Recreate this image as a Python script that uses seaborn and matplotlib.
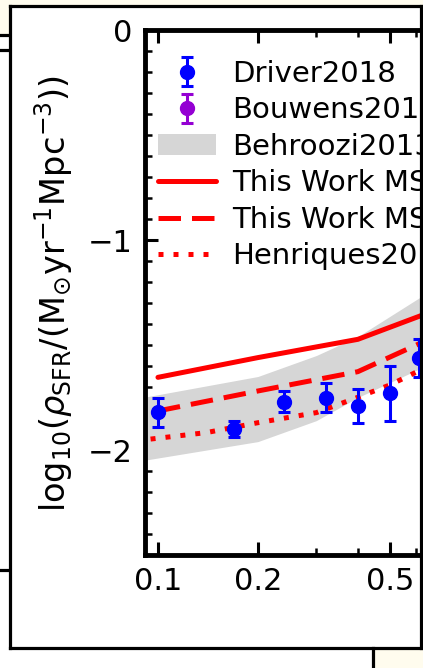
import numpy as np
import matplotlib
matplotlib.use("Agg")
import matplotlib.pyplot as plt
import seaborn as sns
from matplotlib.patches import Rectangle
from matplotlib.lines import Line2D
from matplotlib.ticker import FixedLocator, FixedFormatter, NullFormatter

# ---- data ----
z_driver = [0.10, 0.17, 0.24, 0.32, 0.40, 0.50, 0.61]
sfrd_driver = [-1.82, -1.90, -1.77, -1.75, -1.79, -1.73, -1.56]
err_driver = [0.07, 0.04, 0.05, 0.07, 0.08, 0.13, 0.09]

z_bouwens = [np.nan]
sfrd_bouwens = [np.nan]
err_bouwens = [np.nan]

z_behroozi = [0.09, 0.20, 0.30, 0.40, 0.62]
behroozi_hi = [-1.75, -1.65, -1.55, -1.46, -1.27]
behroozi_lo = [-2.05, -1.96, -1.86, -1.75, -1.61]

z_model = [0.10, 0.20, 0.40, 0.62]
sfrd_ms_a = [-1.654, -1.560, -1.473, -1.360]
sfrd_ms_b = [-1.814, -1.719, -1.627, -1.490]

z_henriques = [0.095, 0.14, 0.20, 0.30, 0.40, 0.50, 0.62]
sfrd_henriques = [-1.948, -1.917, -1.870, -1.822, -1.749, -1.690, -1.618]

labels = ["Driver2018", "Bouwens2015", "Behroozi2013",
          "This Work MSI", "This Work MSII", "Henriques2015"]
xticks_major = [0.1, 0.2, 0.5]
xtick_labels = ["0.1", "0.2", "0.5"]
xticks_minor = [0.3, 0.4, 0.6, 0.7, 0.8]
yticks = [-2, -1, 0]
ytick_labels = ["\u22122", "\u22121", "0"]

# ---- figure ----
sns.set_theme(style="ticks")
plt.rcParams["font.family"] = ["DejaVu Sans"]
plt.rcParams["mathtext.fontset"] = "dejavusans"

W, H = 423, 668
fig = plt.figure(figsize=(W / 100, H / 100), dpi=100)
fig.patch.set_facecolor("white")

def fx(x):
    return x / W

def fy(y):
    return 1 - y / H

cream = "#fffcee"
# background window artefacts
fig.add_artist(Rectangle((0, fy(5.5)), 1, 5.5 / H, transform=fig.transFigure,
                         facecolor=cream, edgecolor="none", zorder=0))
fig.add_artist(Rectangle((0, fy(34)), fx(10), 34 / H, transform=fig.transFigure,
                         facecolor=cream, edgecolor="none", zorder=0))
fig.add_artist(Rectangle((fx(373), 0), 1 - fx(373), fy(648),
                         transform=fig.transFigure, facecolor=cream,
                         edgecolor="none", zorder=0))
for (x0, y0, x1, y1) in [(10, 5.5, 423, 5.5), (10, 5.5, 10, 648),
                         (10, 648, 423, 648), (421, 5.5, 421, 648),
                         (373, 648, 373, 668), (0, 35, 8, 35),
                         (0, 50, 8, 50), (0, 570, 8, 570)]:
    fig.add_artist(Line2D([fx(x0), fx(x1)], [fy(y0), fy(y1)],
                          transform=fig.transFigure, color="black",
                          lw=2.3, zorder=5, solid_capstyle="projecting"))

# main axes (extends beyond right edge of figure)
xmin, xmax = 0.0914, 0.8
ppd = 332.0
ax_w_px = np.log10(xmax / xmin) * ppd
ax = fig.add_axes([fx(145), fy(555), ax_w_px / W, 525 / H])
ax.set_xscale("log")
ax.set_xlim(xmin, xmax)
ax.set_ylim(-2.5, 0)

ax.fill_between(z_behroozi, behroozi_lo, behroozi_hi, color="#d6d6d6",
                lw=0, zorder=1)
sns.lineplot(x=z_model, y=sfrd_ms_a, ax=ax, color="red", lw=3.6,
             estimator=None, sort=False, zorder=3)
sns.lineplot(x=z_model, y=sfrd_ms_b, ax=ax, color="red", lw=3.6,
             estimator=None, sort=False, zorder=3, dashes=False,
             linestyle=(0, (4.5, 2.2)))
sns.lineplot(x=z_henriques, y=sfrd_henriques, ax=ax, color="red", lw=3.6,
             estimator=None, sort=False, zorder=3, linestyle=(0, (1, 2)))
eb_driver = ax.errorbar(z_driver, sfrd_driver, yerr=err_driver, fmt="o",
                        color="#0000ff", ms=10, elinewidth=2.2, capsize=4.5,
                        capthick=2.2, zorder=4)
eb_bouwens = ax.errorbar(z_bouwens, sfrd_bouwens, yerr=err_bouwens, fmt="o",
                         color="darkviolet", ms=10, elinewidth=2.2,
                         capsize=4.5, capthick=2.2, zorder=4)

# ticks
ax.xaxis.set_major_locator(FixedLocator(xticks_major))
ax.xaxis.set_major_formatter(FixedFormatter(xtick_labels))
ax.xaxis.set_minor_locator(FixedLocator(xticks_minor))
ax.xaxis.set_minor_formatter(NullFormatter())
ax.yaxis.set_major_locator(FixedLocator(yticks))
ax.yaxis.set_major_formatter(FixedFormatter(ytick_labels))
ax.yaxis.set_minor_locator(FixedLocator(np.arange(-2.5, 0.001, 0.1)))
ax.tick_params(which="both", direction="in", top=True, right=True,
               colors="black")
ax.tick_params(which="major", length=9.5, width=2.2, labelsize=22, pad=9)
ax.tick_params(which="minor", length=5, width=1.8)
for s in ax.spines.values():
    s.set_linewidth(3.5)
    s.set_color("black")

ylab = ax.set_ylabel(
    r"$\mathrm{log}_{10}(\rho_{\mathrm{SFR}}/(\mathrm{M_{\odot}yr^{-1}Mpc^{-3}}))$",
    fontsize=22.5, color="black", va="center")
# fit the label length to the reference (about 437 px tall)
renderer = fig.canvas.get_renderer()
for _ in range(3):
    bb = ylab.get_window_extent(renderer)
    ylab.set_fontsize(ylab.get_fontsize() * 437.0 / bb.height)
ax.yaxis.set_label_coords(fx(54), fy(293.5), transform=fig.transFigure)

# legend
handles = [
    eb_driver,
    eb_bouwens,
    Rectangle((0, 0), 1, 1, facecolor="#d6d6d6", edgecolor="none"),
    Line2D([], [], color="red", lw=3.6),
    Line2D([], [], color="red", lw=3.6, ls=(0, (4.5, 2.2))),
    Line2D([], [], color="red", lw=3.6, ls=(0, (1, 2))),
]
leg = ax.legend(handles, labels, loc="upper left",
                bbox_to_anchor=(fx(158), fy(60)), bbox_transform=fig.transFigure,
                frameon=False, fontsize=21, borderpad=0, borderaxespad=0,
                handlelength=2.0, handletextpad=0.55, labelspacing=0.29)
for t in leg.get_texts():
    t.set_color("black")

fig.savefig("out.png", dpi=100, facecolor=fig.get_facecolor())
